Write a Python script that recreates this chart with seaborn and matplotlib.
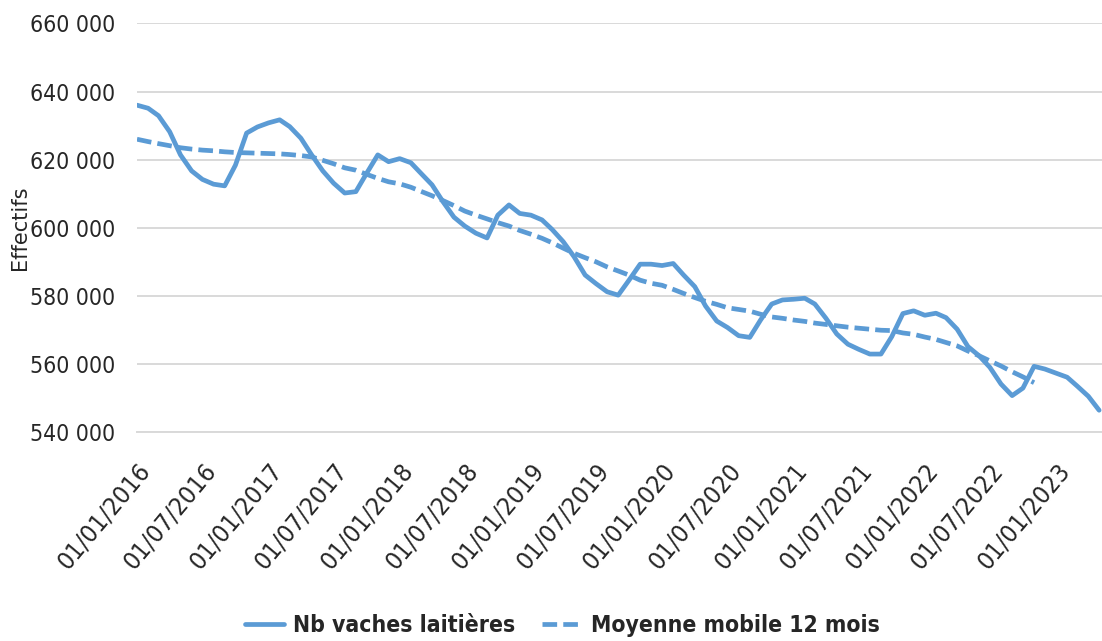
import seaborn as sns
import matplotlib.pyplot as plt
import matplotlib.ticker as mticker
import pandas as pd

# monthly dairy cow numbers, Jan 2016 -> May 2023
nb_vaches = [636000, 635100, 632900, 628200, 621400, 616700, 614200, 612800, 612300, 618400,
             627800, 629600, 630800, 631700, 629700, 626300, 621400, 616700, 613100, 610200,
             610600, 616000, 621400, 619400, 620300, 619100, 616000, 612600, 607700, 603100,
             600500, 598400, 597000, 603700, 606700, 604200, 603700, 602300, 599500, 595900,
             591500, 586100, 583600, 581200, 580200, 584600, 589300, 589300, 588900, 589500,
             586100, 582700, 577000, 572600, 570700, 568300, 567800, 572900, 577600, 578800,
             579000, 579300, 577600, 573400, 568800, 565800, 564300, 562900, 562900, 568000,
             574800, 575600, 574300, 574900, 573600, 570200, 565100, 562400, 559000, 554100,
             550700, 552900, 559300, 558500, 557300, 556100, 553500, 550500, 546400]

# 12-month moving average (drawn up to Nov 2022)
moyenne_12 = [626000, 625300, 624700, 624100, 623500, 623100, 622800, 622600, 622300, 622100,
              622000, 621900, 621800, 621700, 621500, 621200, 620800, 619800, 618800, 617600,
              616900, 615700, 614500, 613500, 612900, 611900, 610700, 609400, 608000, 606500,
              604900, 603700, 602600, 601500, 600500, 599200, 598100, 596900, 595600, 594000,
              592500, 591200, 590000, 588500, 587300, 586100, 584600, 583700, 583100, 581900,
              580700, 579500, 578400, 577500, 576500, 576000, 575500, 574600, 573800, 573400,
              572900, 572500, 572000, 571600, 571200, 570800, 570500, 570200, 569900, 569800,
              569100, 568700, 567900, 567200, 566300, 565300, 563800, 562400, 560900, 559400,
              557700, 556200, 554500]

tick_labels = ['01/01/2016', '01/07/2016', '01/01/2017', '01/07/2017', '01/01/2018',
               '01/07/2018', '01/01/2019', '01/07/2019', '01/01/2020', '01/07/2020',
               '01/01/2021', '01/07/2021', '01/01/2022', '01/07/2022', '01/01/2023']

dates = pd.date_range('2016-01-01', periods=len(nb_vaches), freq='MS')
tick_dates = pd.to_datetime(tick_labels, format='%d/%m/%Y')

blue = '#5B9BD5'
grid = '#D9D9D9'

sns.set_style('white')
plt.rcParams['font.family'] = ['DejaVu Sans']
plt.rcParams['font.stretch'] = 'condensed'

fig = plt.figure(figsize=(11.02, 6.41), dpi=100)
ax = fig.add_axes([0.1243, 0.326, 0.8757, 0.6374])

sns.lineplot(x=dates, y=nb_vaches, ax=ax, color=blue, linewidth=3.4,
             label='Nb vaches laitières', legend=False)
sns.lineplot(x=dates[:len(moyenne_12)], y=moyenne_12, ax=ax, color=blue, linewidth=3.4,
             label='Moyenne mobile 12 mois', legend=False)
ax.lines[0].set_solid_joinstyle('round')
ax.lines[1].set_dashes((3.1, 1.3))

ax.set_ylim(540000, 660000)
ax.set_xlim(dates[0], dates[-1] + pd.Timedelta(days=8))
ax.yaxis.set_major_locator(mticker.MultipleLocator(20000))
ax.yaxis.set_major_formatter(mticker.FuncFormatter(lambda v, p: f'{int(v):,}'.replace(',', ' ')))
ax.grid(axis='y', color=grid, linewidth=1.4)
ax.set_axisbelow(True)

ax.set_xticks(tick_dates, tick_labels, rotation=50, ha='right', rotation_mode='anchor',
              fontsize=18)
ax.tick_params(axis='x', which='major', direction='out', length=9, width=1.2, color=grid, pad=10)
ax.tick_params(axis='y', length=0, labelsize=16.5, pad=16)

for side in ['top', 'right', 'left']:
    ax.spines[side].set_visible(False)
ax.spines['bottom'].set_color(grid)
ax.spines['bottom'].set_linewidth(1.4)

ax.set_ylabel('Effectifs', fontsize=15, fontstretch='normal')
ax.yaxis.set_label_coords(-0.111, 0.5)
ax.set_xlabel('')

handles, labels = ax.get_legend_handles_labels()
fig.legend(handles, labels, loc='center', bbox_to_anchor=(0.51, 0.024), ncol=2, frameon=False,
           handlelength=1.7, columnspacing=1.2, handletextpad=0.4,
           prop={'size': 16.5, 'weight': 'bold', 'stretch': 'condensed'})

fig.savefig('out.png', dpi=100)
